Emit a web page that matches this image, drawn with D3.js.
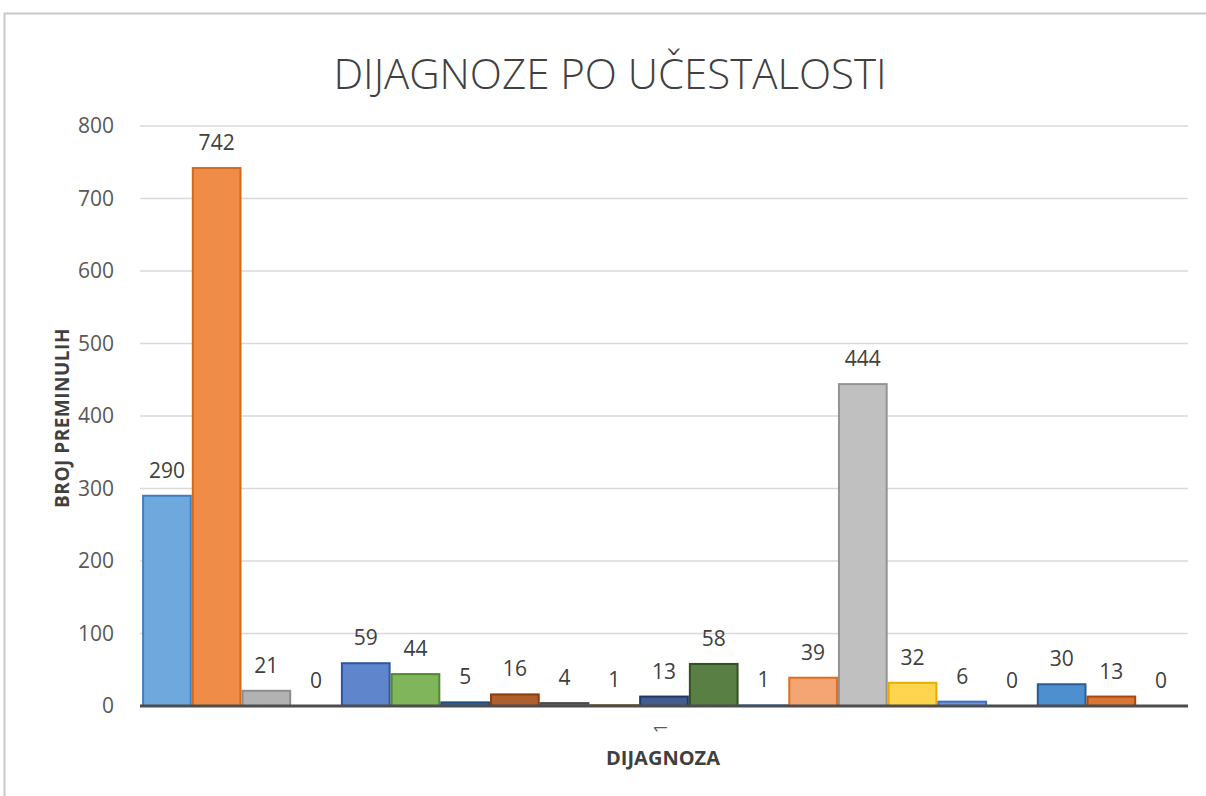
<!DOCTYPE html>
<html>
<head>
<meta charset="utf-8">
<script src="https://cdn.jsdelivr.net/npm/d3@7"></script>
<style>
  body { margin: 0; background: #fff; }
  svg { display: block; }
  text { font-family: "Open Sans", sans-serif; }
</style>
</head>
<body>
<svg id="chart" width="1206" height="796"></svg>
<script>
// data
var categories = ["1"];
var values = [290, 742, 21, 0, 59, 44, 5, 16, 4, 1, 13, 58, 1, 39, 444, 32, 6, 0, 30, 13, 0];
var yTicks = [0, 100, 200, 300, 400, 500, 600, 700, 800];

// Excel-like series colours (fill / outline)
var fills = ["#6FA8DC", "#EF8C47", "#B2B2B2", "#FFC000", "#5F86CC", "#80B55B", "#2F6496", "#AE5F2D",
             "#6B6B6B", "#A37D0A", "#435E8C", "#5A7F45", "#8DB8E0", "#F3A574", "#C0C0C0", "#FFD550",
             "#7196D6", "#95C672", "#4D8FCF", "#D97634", "#8A8A8A"];
var strokes = ["#3E7FC1", "#D2691E", "#8C8C8C", "#D9A300", "#2F55A4", "#4E8A2E", "#1E4E7A", "#8A3E0C",
               "#4A4A4A", "#7A5C00", "#1F3864", "#344F22", "#5B9BD5", "#E46C1A", "#939393", "#E6AC00",
               "#3F6FC6", "#6FA34A", "#265E95", "#A9470F", "#6A6A6A"];

var svg = d3.select("#chart");

var margin = {left: 140, right: 18, top: 126, bottom: 90};
var W = 1206, H = 796;

// chart frame (cropped Excel chart area)
svg.append("path")
    .attr("d", "M4.5,796 L4.5,13.5 L1206,13.5")
    .attr("fill", "none")
    .attr("stroke", "#C9C9C9")
    .attr("stroke-width", 2);

var y = d3.scaleLinear()
    .domain([0, 800])
    .range([H - margin.bottom, margin.top]);

var x0 = d3.scaleBand()
    .domain(categories)
    .range([margin.left, W - margin.right])
    .paddingInner(0)
    .paddingOuter(0.002);

var x1 = d3.scaleBand()
    .domain(d3.range(values.length))
    .range([0, x0.bandwidth()])
    .padding(0);

// gridlines
svg.append("g")
    .selectAll("line")
    .data(yTicks.filter(function (d) { return d > 0; }))
    .enter()
    .append("line")
    .attr("x1", margin.left)
    .attr("x2", W - margin.right)
    .attr("y1", function (d) { return y(d); })
    .attr("y2", function (d) { return y(d); })
    .attr("stroke", "#D9D9D9")
    .attr("stroke-width", 1.5);

// y axis labels
var yAxis = svg.append("g")
    .attr("transform", "translate(" + margin.left + ",0)")
    .call(d3.axisLeft(y).tickValues(yTicks).tickSize(0).tickPadding(26));
yAxis.select(".domain").remove();
yAxis.selectAll("text")
    .attr("fill", "#595959")
    .style("font-size", "21px");

// bars
var group = svg.append("g")
    .selectAll("g")
    .data(categories)
    .enter()
    .append("g")
    .attr("transform", function (d) { return "translate(" + x0(d) + ",0)"; });

group.selectAll("rect")
    .data(values.map(function (v, i) { return {i: i, v: v}; }))
    .enter()
    .append("rect")
    .attr("x", function (d) { return x1(d.i) + 1; })
    .attr("width", x1.bandwidth() - 2)
    .attr("y", function (d) { return y(d.v); })
    .attr("height", function (d) { return y(0) - y(d.v); })
    .attr("fill", function (d) { return fills[d.i]; })
    .attr("stroke", function (d) { return strokes[d.i]; })
    .attr("stroke-width", 2);

// value labels
group.selectAll("text.val")
    .data(values.map(function (v, i) { return {i: i, v: v}; }))
    .enter()
    .append("text")
    .attr("class", "val")
    .attr("x", function (d) { return x1(d.i) + x1.bandwidth() / 2; })
    .attr("y", function (d) { return y(d.v) - 18; })
    .attr("text-anchor", "middle")
    .attr("fill", "#404040")
    .style("font-size", "21px")
    .text(function (d) { return d.v; });

// x axis line
svg.append("line")
    .attr("x1", margin.left)
    .attr("x2", W - margin.right)
    .attr("y1", y(0))
    .attr("y2", y(0))
    .attr("stroke", "#4D4D4D")
    .attr("stroke-width", 3);

// category tick label (rotated)
svg.selectAll("text.cat")
    .data(categories)
    .enter()
    .append("text")
    .attr("class", "cat")
    .attr("transform", function (d) {
        return "translate(" + (x0(d) + x0.bandwidth() / 2 + 3) + "," + (y(0) + 22) + ") rotate(-90)";
    })
    .attr("text-anchor", "middle")
    .attr("fill", "#595959")
    .style("font-size", "18px")
    .text(function (d) { return d; });

// axis titles
svg.append("text")
    .attr("x", 663)
    .attr("y", 765)
    .attr("text-anchor", "middle")
    .attr("fill", "#404040")
    .style("font-size", "20px")
    .style("font-weight", "bold")
    .text("DIJAGNOZA");

svg.append("text")
    .attr("transform", "translate(69,418) rotate(-90)")
    .attr("text-anchor", "middle")
    .attr("fill", "#404040")
    .style("font-size", "19px")
    .style("font-weight", "bold")
    .style("letter-spacing", "0.5px")
    .text("BROJ PREMINULIH");

// chart title
svg.append("text")
    .attr("x", 610)
    .attr("y", 89)
    .attr("text-anchor", "middle")
    .attr("fill", "#404040")
    .style("font-size", "42px")
    .style("font-weight", "300")
    .text("DIJAGNOZE PO UČESTALOSTI");
</script>
</body>
</html>
